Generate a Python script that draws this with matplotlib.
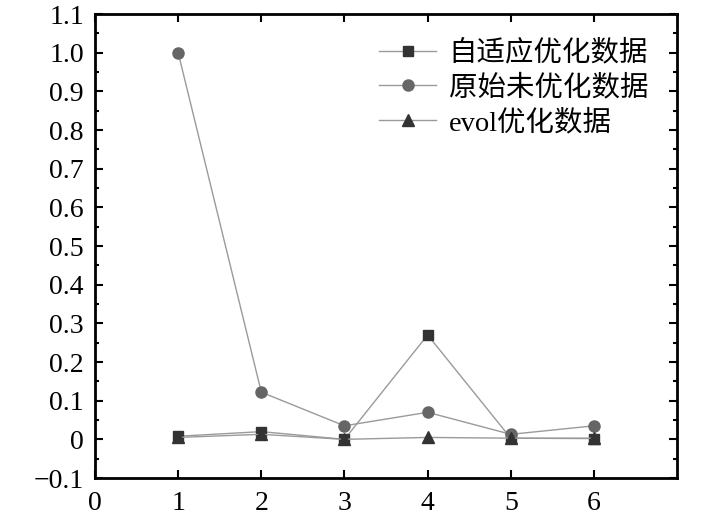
import matplotlib.pyplot as plt
from matplotlib.ticker import MultipleLocator

plt.rcParams['font.family'] = ['Liberation Serif', 'Noto Sans CJK SC']
plt.rcParams['axes.unicode_minus'] = True

x = [1, 2, 3, 4, 5, 6]
adaptive = [0.008, 0.02, 0.0, 0.27, 0.003, 0.002]
original = [1.0, 0.122, 0.035, 0.07, 0.013, 0.035]
evol = [0.005, 0.013, 0.0, 0.005, 0.003, 0.003]
labels = ['自适应优化数据', '原始未优化数据', 'evol优化数据']

fig = plt.figure(figsize=(7.09, 5.21), dpi=100)
ax = fig.add_axes([0.134, 0.0825, 0.821, 0.8905])

ax.plot(x, adaptive, color='#9a9a9a', lw=1, marker='s', ms=7,
        mfc='#333333', mec='#333333', label=labels[0])
ax.plot(x, original, color='#9a9a9a', lw=1, marker='o', ms=8,
        mfc='#666666', mec='#666666', label=labels[1])
ax.plot(x, evol, color='#9a9a9a', lw=1, marker='^', ms=8,
        mfc='#333333', mec='#333333', label=labels[2])

ax.set_xlim(0, 7)
ax.set_ylim(-0.1, 1.1)
ax.set_xticks([0, 1, 2, 3, 4, 5, 6])
ax.set_yticks([-0.1, 0, 0.1, 0.2, 0.3, 0.4, 0.5, 0.6, 0.7, 0.8, 0.9, 1.0, 1.1])
ax.set_yticklabels(['\u22120.1', '0', '0.1', '0.2', '0.3', '0.4', '0.5', '0.6',
                    '0.7', '0.8', '0.9', '1.0', '1.1'])
ax.yaxis.set_minor_locator(MultipleLocator(0.05))

ax.tick_params(which='both', direction='in', top=True, right=True, labelsize=20, width=1.5)
ax.tick_params(which='major', length=6)
ax.tick_params(which='minor', length=3)
ax.tick_params(axis='x', pad=9)
ax.tick_params(axis='y', pad=8)
for s in ax.spines.values():
    s.set_linewidth(2)

leg = ax.legend(loc='upper right', bbox_to_anchor=(0.975, 0.975), frameon=False,
                fontsize=20.5, handlelength=2.0, handletextpad=0.45,
                labelspacing=0.28, borderaxespad=0.1)

fig.savefig('out.png', dpi=100)
